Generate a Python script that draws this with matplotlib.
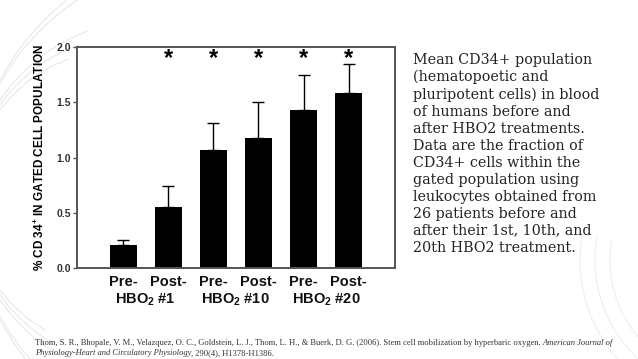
"""Mean CD34+ population before/after HBO2 treatments (Thom et al. 2006)."""
import matplotlib
matplotlib.use("Agg")
import matplotlib.pyplot as plt
from matplotlib.patches import Arc

groups = ["Pre-", "Post-", "Pre-", "Post-", "Pre-", "Post-"]
sessions = ["#1", "#10", "#20"]
means = [0.21, 0.55, 1.07, 1.18, 1.43, 1.58]
err_up = [0.04, 0.19, 0.24, 0.32, 0.32, 0.27]
signif = [False, True, True, True, True, True]
yticks = [0.0, 0.5, 1.0, 1.5, 2.0]

caption = ("Mean CD34+ population\n(hematopoetic and\npluripotent cells) in blood\n"
           "of humans before and\nafter HBO2 treatments.\nData are the fraction of\n"
           "CD34+ cells within the\ngated population using\nleukocytes obtained from\n"
           "26 patients before and\nafter their 1st, 10th, and\n20th HBO2 treatment.")
cite1 = ("Thom, S. R., Bhopale, V. M., Velazquez, O. C., Goldstein, L. J., Thom, L. H., "
         "& Buerk, D. G. (2006). Stem cell mobilization by hyperbaric oxygen. ")
cite1_it = "American Journal of"
cite2_it = "Physiology-Heart and Circulatory Physiology"
cite2 = ", 290(4), H1378-H1386."

plt.rcParams["font.family"] = ["Liberation Sans", "DejaVu Sans"]
plt.rcParams["mathtext.fontset"] = "custom"
plt.rcParams["mathtext.bf"] = "Liberation Sans:bold"
plt.rcParams["mathtext.rm"] = "Liberation Sans:bold"

fig = plt.figure(figsize=(6.38, 3.59), dpi=100)

# faint decorative arcs in the background
bg = fig.add_axes([0, 0, 1, 1], zorder=-5)
bg.set_xlim(0, 638); bg.set_ylim(359, 0); bg.axis("off")
for r in [150, 165, 180, 240, 255]:
    bg.add_patch(Arc((r - 30, 200), 2 * r, 2 * r, theta1=120, theta2=250,
                     color="#e8e8e8", lw=0.8))
for r in [120, 135, 150]:
    bg.add_patch(Arc((730, 260), 2 * r, 2 * r, theta1=110, theta2=190,
                     color="#eeeeee", lw=0.8))

ax = fig.add_axes([0.1207, 0.2535, 0.498, 0.6155])
x = list(range(len(means)))
ax.bar(x, means, width=0.6, color="black", zorder=2)
ax.errorbar(x, means, yerr=[[0] * len(means), err_up], fmt="none",
            ecolor="black", elinewidth=1, capsize=4, capthick=1, zorder=1)
for xi, s in zip(x, signif):
    if s:
        ax.text(xi, 1.90, "*", ha="center", va="center", fontsize=17,
                fontweight="bold")

ax.set_xlim(-1.02, 6.02)
ax.set_ylim(0, 2.0)
ax.set_yticks(yticks)
ax.set_yticklabels([f"{t:.1f}" for t in yticks], fontsize=7.5,
                   fontweight="bold", color="#333333")
ax.set_xticks([])
ax.tick_params(axis="y", direction="out", length=3, width=1, pad=1.5,
               color="#555555")
for sp in ax.spines.values():
    sp.set_linewidth(1.4)
    sp.set_color("#555555")
ax.set_ylabel("% CD 34$^{+}$ IN GATED CELL POPULATION", fontsize=8.5,
              fontweight="bold", labelpad=7)

for xi, g in zip(x, groups):
    ax.text(xi, -0.06, g, ha="center", va="top", fontsize=10.5,
            fontweight="bold", color="#111111")
for i, s in enumerate(sessions):
    ax.text(2 * i + 0.5, -0.21, "HBO$_{\\mathbf{2}}$ " + s, ha="center",
            va="top", fontsize=10.5, fontweight="bold", color="#111111")

fig.text(413 / 638, 1 - 53 / 359, caption, ha="left", va="top",
         fontsize=10.3, family=["DejaVu Serif"], linespacing=1.27,
         color="#222222")

cf = ["Liberation Serif", "DejaVu Serif"]
t1 = fig.text(35 / 638, 1 - 343 / 359, cite1, fontsize=6.15, family=cf,
              va="center", color="#333333")
fig.canvas.draw()
bb = t1.get_window_extent()
fig.text(bb.x1 / 638, 1 - 343 / 359, cite1_it, fontsize=6.15, family=cf,
         style="italic", va="center", color="#333333")
t2 = fig.text(35 / 638, 1 - 353 / 359, cite2_it, fontsize=6.15, family=cf,
              style="italic", va="center", color="#333333")
fig.canvas.draw()
bb2 = t2.get_window_extent()
fig.text(bb2.x1 / 638, 1 - 353 / 359, cite2, fontsize=6.15, family=cf,
         va="center", color="#333333")

fig.savefig("out.png", dpi=100)
